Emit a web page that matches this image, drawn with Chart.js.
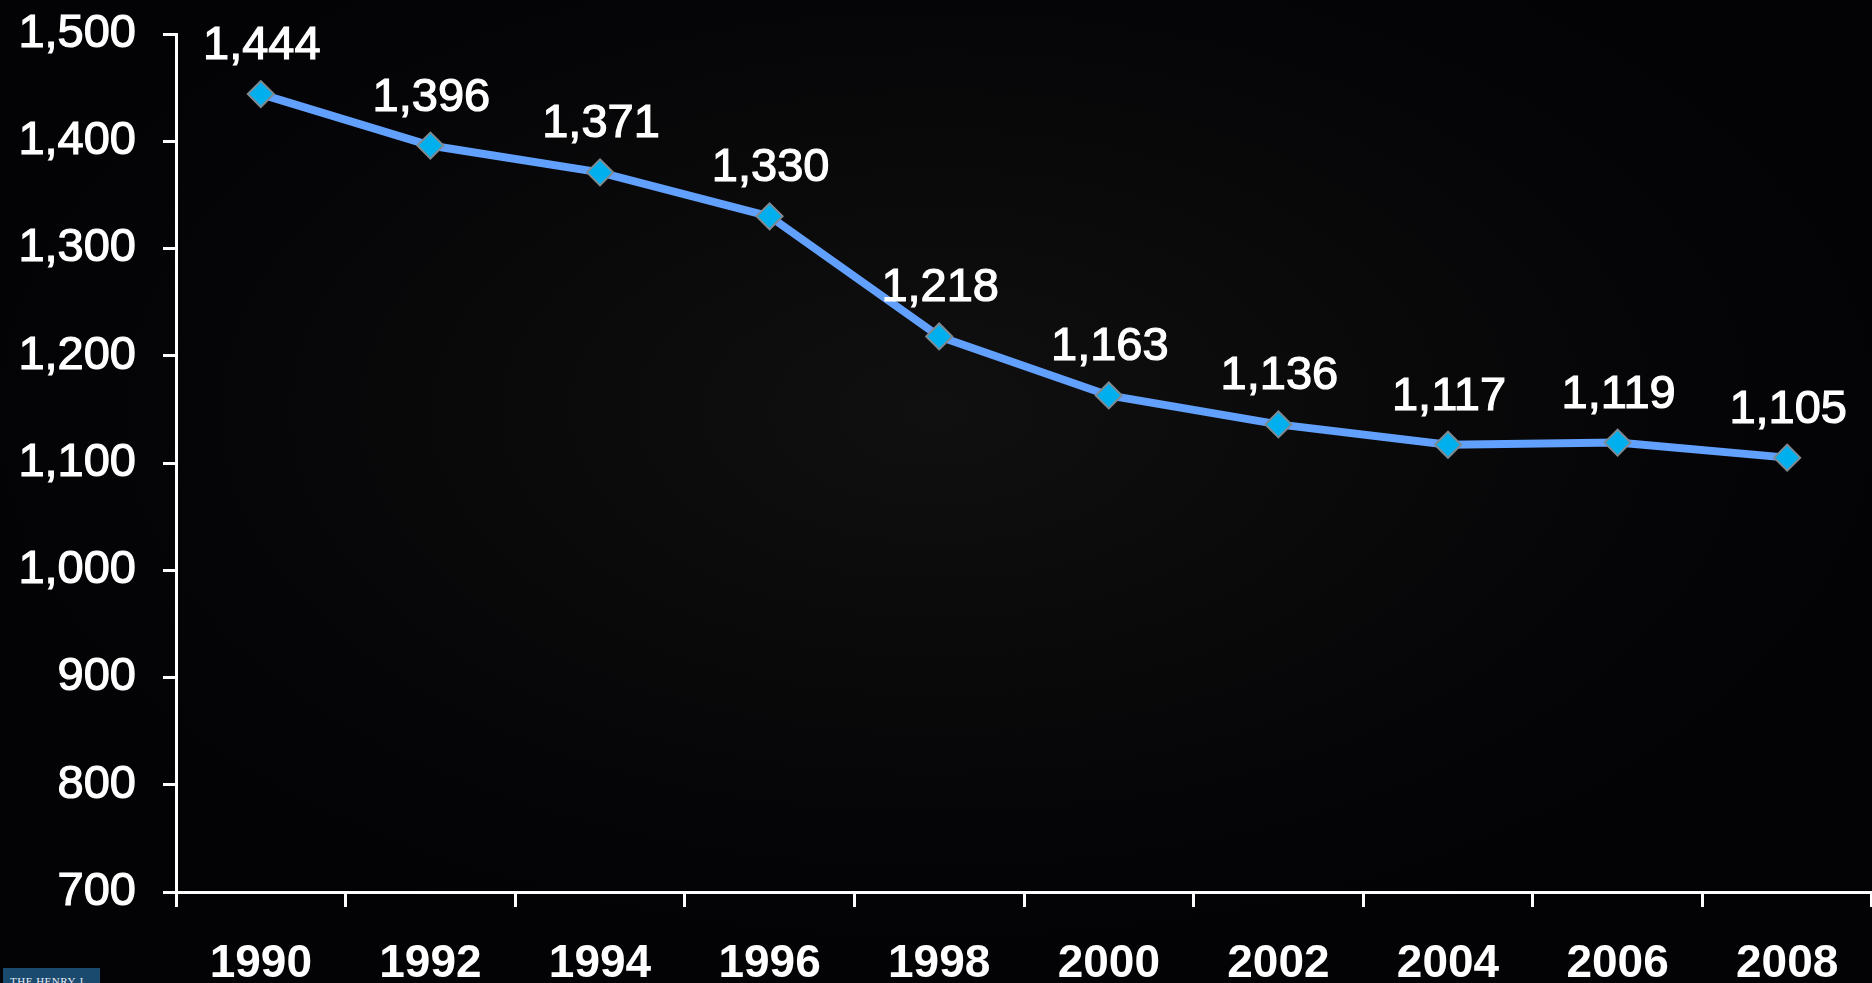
<!DOCTYPE html>
<html>
<head>
<meta charset="utf-8">
<script src="https://cdn.jsdelivr.net/npm/chart.js@4.4.1/dist/chart.umd.min.js"></script>
<style>
  html, body {
    margin: 0;
    padding: 0;
    width: 1872px;
    height: 983px;
    overflow: hidden;
    background: #040406;
  }
  body {
    background: radial-gradient(ellipse 1000px 560px at 50% 42%, #101011 0%, #0a0a0b 40%, #050507 75%, #030305 100%);
  }
  #wrap {
    position: absolute;
    left: 0;
    top: 0;
    width: 1872px;
    height: 983px;
  }
  .badge {
    position: absolute;
    left: 3px;
    top: 968px;
    width: 97px;
    height: 20px;
    background: #1b4a6f;
    color: #e8eef4;
    font-family: "Liberation Serif", "DejaVu Serif", serif;
    font-size: 11px;
    letter-spacing: 0.5px;
    line-height: 11px;
    padding-left: 7px;
    padding-top: 8px;
    box-sizing: border-box;
    overflow: hidden;
  }
</style>
</head>
<body>
<div id="wrap"><canvas id="chart" width="1872" height="983"></canvas></div>
<div class="badge">THE HENRY J.</div>
<script>
const years = ["1990", "1992", "1994", "1996", "1998", "2000", "2002", "2004", "2006", "2008"]
const values = [1444, 1396, 1371, 1330, 1218, 1163, 1136, 1117, 1119, 1105]
const yTicks = [700, 800, 900, 1000, 1100, 1200, 1300, 1400, 1500]

const fmt = (v) => v.toLocaleString("en-US")

// value labels above each marker
const pointLabels = {
  id: "pointLabels",
  afterDatasetsDraw(chart) {
    const ctx = chart.ctx
    const meta = chart.getDatasetMeta(0)
    ctx.save()
    ctx.fillStyle = "#ffffff"
    ctx.strokeStyle = "#ffffff"
    ctx.lineWidth = 1.2
    ctx.font = "47px 'Liberation Sans', Arial, sans-serif"
    ctx.textAlign = "center"
    ctx.textBaseline = "alphabetic"
    meta.data.forEach((pt, i) => {
      const txt = fmt(values[i])
      ctx.fillText(txt, pt.x + 1, pt.y - 35)
      ctx.strokeText(txt, pt.x + 1, pt.y - 35)
    })
    ctx.restore()
  },
}

document.addEventListener("DOMContentLoaded", () => {
  const ctx = document.getElementById("chart")

  new Chart(ctx, {
    type: "line",
    data: {
      labels: years,
      datasets: [
        {
          data: values,
          borderColor: "#62a0fd",
          borderWidth: 8,
          tension: 0,
          pointStyle: "rectRot",
          pointRadius: 13,
          pointBackgroundColor: "#00b0ee",
          pointBorderColor: "#7d8a93",
          pointBorderWidth: 2,
        },
      ],
    },
    options: {
      responsive: false,
      animation: false,
      devicePixelRatio: 1,
      layout: {
        autoPadding: false,
        padding: { top: 34, right: 0, left: 0, bottom: 0 },
      },
      plugins: {
        legend: { display: false },
        tooltip: { enabled: false },
      },
      scales: {
        y: {
          min: 700,
          max: 1500,
          afterFit: (scale) => {
            scale.width = 176
            scale.paddingTop = 0
            scale.paddingBottom = 0
          },
          afterBuildTicks: (scale) => {
            scale.ticks = yTicks.map((v) => ({ value: v }))
          },
          border: { display: true, color: "#ffffff", width: 3 },
          grid: {
            drawOnChartArea: false,
            drawTicks: true,
            tickLength: 13,
            color: "#ffffff",
            lineWidth: 3,
          },
          ticks: {
            color: "#ffffff",
            padding: 27,
            textStrokeColor: "#ffffff",
            textStrokeWidth: 1.2,
            font: { family: "'Liberation Sans', Arial, sans-serif", size: 47 },
            callback: (v) => fmt(v),
          },
        },
        x: {
          offset: true,
          afterFit: (scale) => {
            scale.height = 91
          },
          border: { display: true, color: "#ffffff", width: 3 },
          grid: {
            offset: true,
            drawOnChartArea: false,
            drawTicks: true,
            tickLength: 15,
            color: "#ffffff",
            lineWidth: 3,
          },
          ticks: {
            color: "#ffffff",
            padding: 30,
            maxRotation: 0,
            autoSkip: false,
            font: { family: "'Liberation Sans', Arial, sans-serif", size: 46, weight: "bold" },
          },
        },
      },
    },
    plugins: [pointLabels],
  })
})
</script>
</body>
</html>
